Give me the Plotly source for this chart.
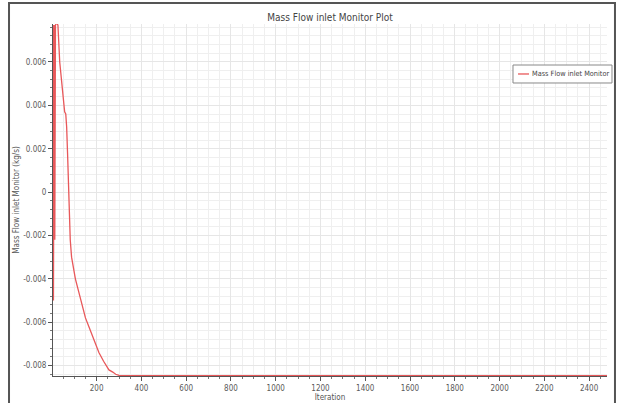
import plotly.graph_objects as go

iterations = [1, 4, 7, 10, 13, 16, 20, 27, 35, 45, 53, 57, 62, 66, 70, 74, 78, 82, 88, 95,
              105, 120, 135, 150, 165, 187, 210, 231, 255, 272, 285, 300, 400, 2480]
mass_flow = [-0.0055, 0.0077, -0.0050, 0.0077, -0.0022, 0.0077, 0.0078, 0.0077, 0.0060, 0.0048,
             0.0039, 0.0037, 0.0036, 0.0030, 0.0018, 0.0002, -0.0012, -0.0022, -0.0030, -0.0035,
             -0.0040, -0.0046, -0.0052, -0.0058, -0.0062, -0.0068, -0.0074, -0.0078, -0.0082,
             -0.0083, -0.0084, -0.00845, -0.00846, -0.00846]

x_ticks = [200, 400, 600, 800, 1000, 1200, 1400, 1600, 1800, 2000, 2200, 2400]
y_ticks = [0.006, 0.004, 0.002, 0, -0.002, -0.004, -0.006, -0.008]
y_labels = ["0.006", "0.004", "0.002", "0", "-0.002", "-0.004", "-0.006", "-0.008"]
series_name = "Mass Flow inlet Monitor"
line_color = "#e8585a"

narrow = "DejaVu Sans Condensed, Liberation Sans, sans-serif"
fig = go.Figure()
fig.add_trace(go.Scatter(
    x=iterations, y=mass_flow, mode="lines", name=series_name,
    line=dict(color=line_color, width=1.3), showlegend=False,
))

font = dict(family=narrow, size=8, color="#5a5a5a")
fig.update_layout(
    width=618, height=403,
    margin=dict(l=53, r=11, t=24, b=27, autoexpand=False),
    paper_bgcolor="white", plot_bgcolor="white",
    font=font,
    title=dict(text="Mass Flow inlet Monitor Plot", x=0.5, xref="paper", y=1, yref="paper",
               yanchor="bottom", pad=dict(b=3), font=dict(size=10, color="#444444")),
    showlegend=False,
)
fig.update_xaxes(
    range=[5, 2480], tickvals=x_ticks, ticks="outside", ticklen=4, tickcolor="#555555",
    showline=True, linecolor="#555555", linewidth=1, mirror=False,
    showgrid=True, gridcolor="#e6e6e6", gridwidth=1, zeroline=False, automargin=False,
    minor=dict(dtick=50, tick0=0, ticks="outside", ticklen=2, tickcolor="#777777",
               showgrid=True, gridcolor="#efefef"),
    title=dict(text="Iteration", font=dict(size=8, color="#555555"), standoff=2),
)
fig.update_yaxes(
    range=[-0.00848, 0.00775], tickvals=y_ticks, ticktext=y_labels, ticks="outside",
    ticklen=4, tickcolor="#555555",
    showline=True, linecolor="#555555", linewidth=1, automargin=False,
    showgrid=True, gridcolor="#e6e6e6", gridwidth=1, zeroline=False,
    minor=dict(dtick=0.0004, tick0=0, ticks="outside", ticklen=2, tickcolor="#777777",
               showgrid=True, gridcolor="#efefef"),
    title=dict(text="Mass Flow inlet Monitor (kg/s)", font=dict(size=8, color="#555555"), standoff=2),
)
# legend box drawn manually (compact, like the reference)
fig.add_shape(type="rect", xref="paper", yref="paper", x0=0.8303, x1=1.009, y0=0.8324, y1=0.8835,
              line=dict(color="#888888", width=1), fillcolor="white", layer="above")
fig.add_shape(type="line", xref="paper", yref="paper", x0=0.8394, x1=0.8592, y0=0.858, y1=0.858,
              line=dict(color=line_color, width=1.3), layer="above")
fig.add_annotation(xref="paper", yref="paper", x=0.8628, y=0.858, xanchor="left", yanchor="middle",
                   text=series_name, showarrow=False, borderpad=0,
                   font=dict(size=7.3, color="#444444", family=narrow))
# outer frame
fig.add_shape(type="rect", xref="paper", yref="paper",
              x0=-0.0794, x1=1.0144, y0=-0.09, y1=1.0597,
              line=dict(color="#555555", width=2), fillcolor="rgba(0,0,0,0)", layer="above")

fig.write_html("out.html")
